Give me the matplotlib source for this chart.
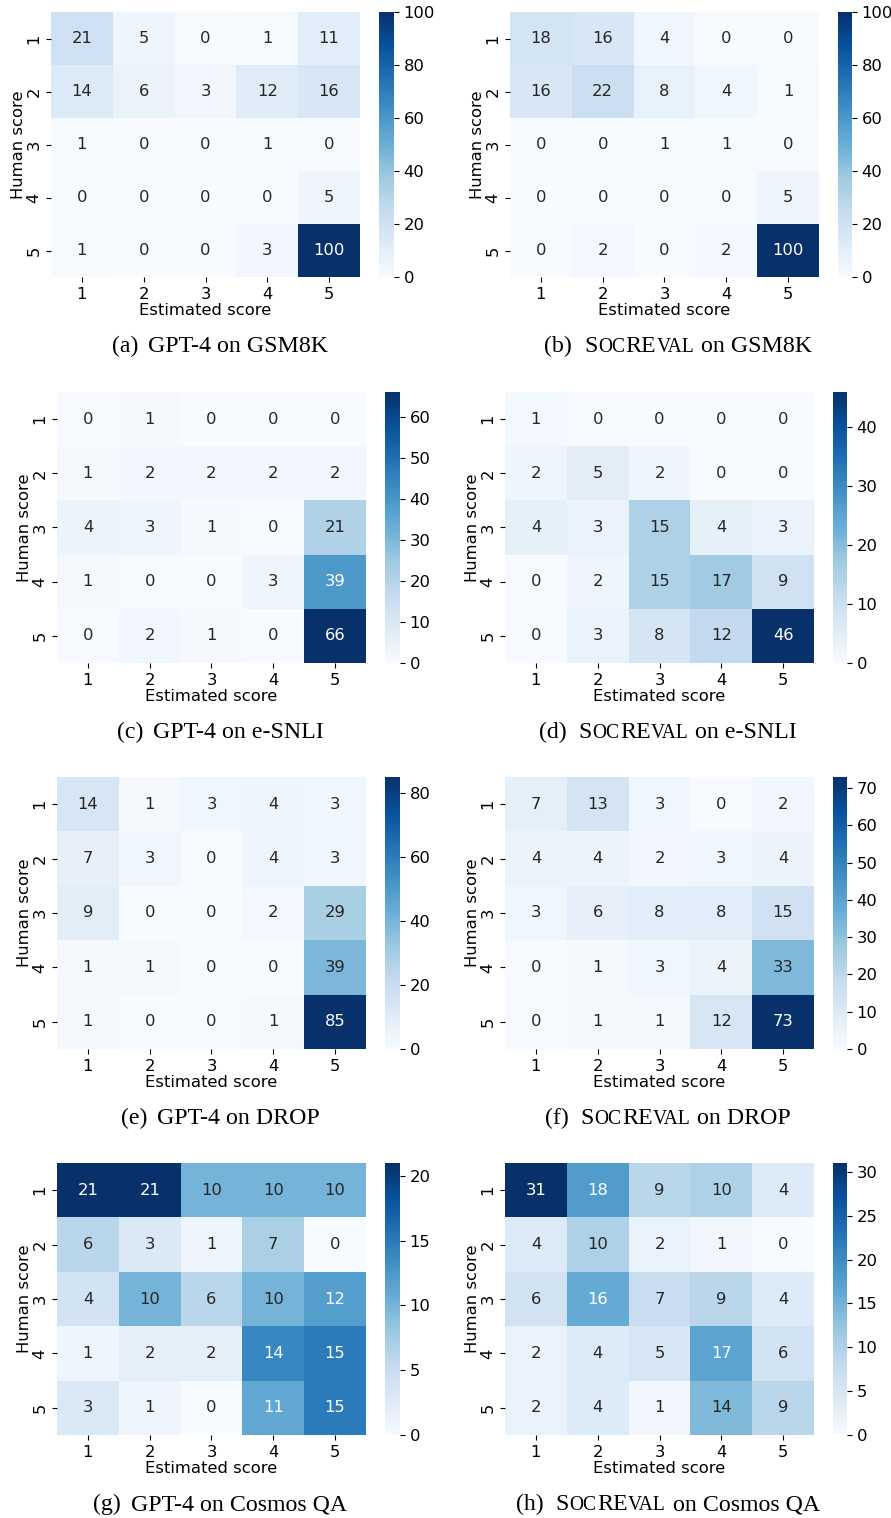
import numpy as np
import matplotlib
matplotlib.use("Agg")
import matplotlib.pyplot as plt
import matplotlib.ticker as mticker
import seaborn as sns

scores = [1, 2, 3, 4, 5]

gsm8k_gpt4 = [[21, 5, 0, 1, 11], [14, 6, 3, 12, 16], [1, 0, 0, 1, 0], [0, 0, 0, 0, 5], [1, 0, 0, 3, 100]]
gsm8k_socreval = [[18, 16, 4, 0, 0], [16, 22, 8, 4, 1], [0, 0, 1, 1, 0], [0, 0, 0, 0, 5], [0, 2, 0, 2, 100]]
esnli_gpt4 = [[0, 1, 0, 0, 0], [1, 2, 2, 2, 2], [4, 3, 1, 0, 21], [1, 0, 0, 3, 39], [0, 2, 1, 0, 66]]
esnli_socreval = [[1, 0, 0, 0, 0], [2, 5, 2, 0, 0], [4, 3, 15, 4, 3], [0, 2, 15, 17, 9], [0, 3, 8, 12, 46]]
drop_gpt4 = [[14, 1, 3, 4, 3], [7, 3, 0, 4, 3], [9, 0, 0, 2, 29], [1, 1, 0, 0, 39], [1, 0, 0, 1, 85]]
drop_socreval = [[7, 13, 3, 0, 2], [4, 4, 2, 3, 4], [3, 6, 8, 8, 15], [0, 1, 3, 4, 33], [0, 1, 1, 12, 73]]
cosmos_gpt4 = [[21, 21, 10, 10, 10], [6, 3, 1, 7, 0], [4, 10, 6, 10, 12], [1, 2, 2, 14, 15], [3, 1, 0, 11, 15]]
cosmos_socreval = [[31, 18, 9, 10, 4], [4, 10, 2, 1, 0], [6, 16, 7, 9, 4], [2, 4, 5, 17, 6], [2, 4, 1, 14, 9]]

tags = ["a", "b", "c", "d", "e", "f", "g", "h"]
datasets = ["GSM8K", "e-SNLI", "DROP", "Cosmos QA"]
matrices = [gsm8k_gpt4, gsm8k_socreval, esnli_gpt4, esnli_socreval,
            drop_gpt4, drop_socreval, cosmos_gpt4, cosmos_socreval]
cbar_steps = [20, 20, 10, 10, 20, 10, 5, 5]

W, H = 891, 1518
fig = plt.figure(figsize=(W / 100, H / 100), dpi=100)

FS = 11.8
CAP_FS = 17.2
SC = 0.82  # small caps scale

# pixel layout of each row / column
rows = [(12, 277), (392, 663), (777, 1049), (1163, 1435)]
cap_base = [352, 738, 1124, 1510]


def px_box(x0, x1, top, bottom):
    return [x0 / W, 1 - bottom / H, (x1 - x0) / W, (bottom - top) / H]


def caption(xc, ybase, parts):
    renderer = fig.canvas.get_renderer()
    em = CAP_FS * 100 / 72
    texts = []
    x = 0
    for s, scale, gap in parts:
        x += gap * em
        t = fig.text(0, 1 - ybase / H, s, fontsize=CAP_FS * scale,
                     family="Liberation Serif", ha="left", va="baseline")
        w = t.get_window_extent(renderer).width
        texts.append((t, x))
        x += w
    start = xc - x / 2
    for t, off in texts:
        t.set_x((start + off) / W)


for i, mat in enumerate(matrices):
    r, c = divmod(i, 2)
    top, bottom = rows[r]
    if c == 0:
        hx = (51, 360) if r == 0 else (57, 366)
        cx = (379, 394) if r == 0 else (385, 400)
        xc = 220
    else:
        hx = (510, 819) if r == 0 else (505, 814)
        cx = (838, 852) if r == 0 else (833, 847)
        xc = 678 if r == 0 else 668
    ax = fig.add_axes(px_box(hx[0], hx[1], top, bottom))
    cax = fig.add_axes(px_box(cx[0], cx[1], top, bottom))
    sns.heatmap(np.array(mat), annot=True, fmt="d", cmap="Blues", ax=ax, cbar_ax=cax,
                xticklabels=scores, yticklabels=scores, annot_kws={"fontsize": FS},
                cbar_kws={"ticks": mticker.MultipleLocator(cbar_steps[i])})
    ax.set_xlabel("Estimated score", fontsize=FS, labelpad=1)
    ax.set_ylabel("Human score", fontsize=FS, labelpad=0.5)
    ax.tick_params(labelsize=FS)
    plt.setp(ax.get_yticklabels(), rotation=90, va="center")
    cax.tick_params(labelsize=FS)

    tag = "(%s)" % tags[i]
    ds = datasets[r]
    if c == 0:
        parts = [(tag, 1, 0), ("GPT-4 on " + ds, 1, 0.4)]
    else:
        parts = [(tag, 1, 0), ("S", 1, 0.5), ("OC", SC, 0.02), ("RE", 1, 0.02),
                 ("VAL", SC, 0.02), ("on " + ds, 1, 0.28)]
    caption(xc, cap_base[r], parts)

fig.savefig("out.png", dpi=100)
